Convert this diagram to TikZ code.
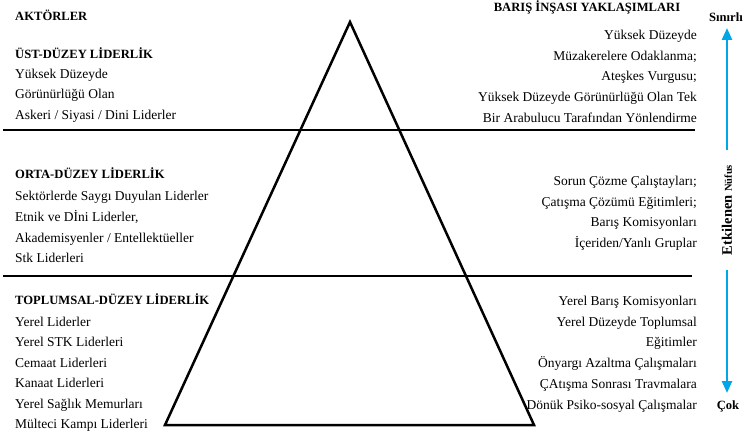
\documentclass[tikz,border=0pt]{standalone}
\usepackage{fontspec}
\setmainfont{Liberation Serif}
\usetikzlibrary{arrows.meta}
\definecolor{arrowblue}{RGB}{0,166,230}
\tikzset{
  body/.style={inner sep=0pt, font=\fontsize{13.5}{16}\selectfont},
  lefttxt/.style={body, anchor=base west},
  righttxt/.style={body, anchor=base east},
  headtxt/.style={inner sep=0pt, font=\fontsize{12.6}{15}\selectfont\bfseries},
  pyr/.style={line width=2.5pt, line join=miter},
  divider/.style={line width=2.3pt},
  flow/.style={arrowblue, line width=2.4pt, -{Triangle[width=10pt,length=12pt]}}
}
\begin{document}
\begin{tikzpicture}[x=1pt,y=-1pt]
\useasboundingbox (0,0) rectangle (744,436);
% dividers
\coordinate (d1l) at (3,130);
\coordinate (d1r) at (695,130);
\coordinate (d2l) at (3,276);
\coordinate (d2r) at (692,276);
\draw[divider] (d1l) -- (d1r);
\draw[divider] (d2l) -- (d2r);
% pyramid
\coordinate (apex) at (350,22);
\coordinate (bl) at (165,425);
\coordinate (br) at (534,425);
\draw[pyr] (apex) -- (bl) -- (br) -- cycle;
% left column
\node[headtxt, anchor=base west] (aktor) at (15,21) {AKTÖRLER};
\node[headtxt, anchor=base west] (ust) at (15,59) {ÜST-DÜZEY LİDERLİK};
\node[lefttxt] (l1) at (15,78) {Yüksek Düzeyde};
\node[lefttxt] (l2) at (15,98.6) {Görünürlüğü Olan};
\node[lefttxt] (l3) at (15,119.3) {Askeri / Siyasi / Dini Liderler};
\node[headtxt, anchor=base west] (orta) at (15,178.5) {ORTA-DÜZEY LİDERLİK};
\node[lefttxt] (m1) at (15,200) {Sektörlerde Saygı Duyulan Liderler};
\node[lefttxt] (m2) at (15,221) {Etnik ve Dİni Liderler,};
\node[lefttxt] (m3) at (15,242) {Akademisyenler / Entellektüeller};
\node[lefttxt] (m4) at (15,262) {Stk Liderleri};
\node[headtxt, anchor=base west] (topl) at (15,304.5) {TOPLUMSAL-DÜZEY LİDERLİK};
\node[lefttxt] (b1) at (15,326) {Yerel Liderler};
\node[lefttxt] (b2) at (15,346.5) {Yerel STK Liderleri};
\node[lefttxt] (b3) at (15,367) {Cemaat Liderleri};
\node[lefttxt] (b4) at (15,387.5) {Kanaat Liderleri};
\node[lefttxt] (b5) at (15,408) {Yerel Sağlık Memurları};
\node[lefttxt] (b6) at (15,428.5) {Mülteci Kampı Liderleri};
% right column
\node[headtxt, anchor=base] (baris) at (587,12) {BARIŞ İNŞASI YAKLAŞIMLARI};
\node[righttxt] (r1) at (697,40) {Yüksek Düzeyde};
\node[righttxt] (r2) at (697,60.5) {Müzakerelere Odaklanma;};
\node[righttxt] (r3) at (697,81) {Ateşkes Vurgusu;};
\node[righttxt] (r4) at (697,101.5) {Yüksek Düzeyde Görünürlüğü Olan Tek};
\node[righttxt] (r5) at (697,122) {Bir Arabulucu Tarafından Yönlendirme};
\node[righttxt] (s1) at (697,185) {Sorun Çözme Çalıştayları;};
\node[righttxt] (s2) at (697,206) {Çatışma Çözümü Eğitimleri;};
\node[righttxt] (s3) at (697,226.5) {Barış Komisyonları};
\node[righttxt] (s4) at (697,247) {İçeriden/Yanlı Gruplar};
\node[righttxt] (t1) at (697,305) {Yerel Barış Komisyonları};
\node[righttxt] (t2) at (697,326) {Yerel Düzeyde Toplumsal};
\node[righttxt] (t3) at (697,346.5) {Eğitimler};
\node[righttxt] (t4) at (697,367) {Önyargı Azaltma Çalışmaları};
\node[righttxt] (t5) at (697,388) {ÇAtışma Sonrası Travmalara};
\node[righttxt] (t6) at (697,409) {Dönük Psiko-sosyal Çalışmalar};
% axis
\node[headtxt, anchor=base east] (sinirli) at (743,22) {Sınırlı};
\node[headtxt, anchor=base] (cok) at (728,409) {Çok};
\node[inner sep=0pt, rotate=90] (etk) at (727,210)
  {\fontsize{14.5}{16}\selectfont\bfseries Etkilenen \fontsize{10.5}{12}\selectfont Nüfus};
\coordinate (atop) at (727,28);
\coordinate (abot) at (727,393);
\coordinate (gtop) at (727,150);
\coordinate (gbot) at (727,270);
\draw[flow] (gtop) -- (atop);
\draw[flow] (gbot) -- (abot);
\end{tikzpicture}
\end{document}
